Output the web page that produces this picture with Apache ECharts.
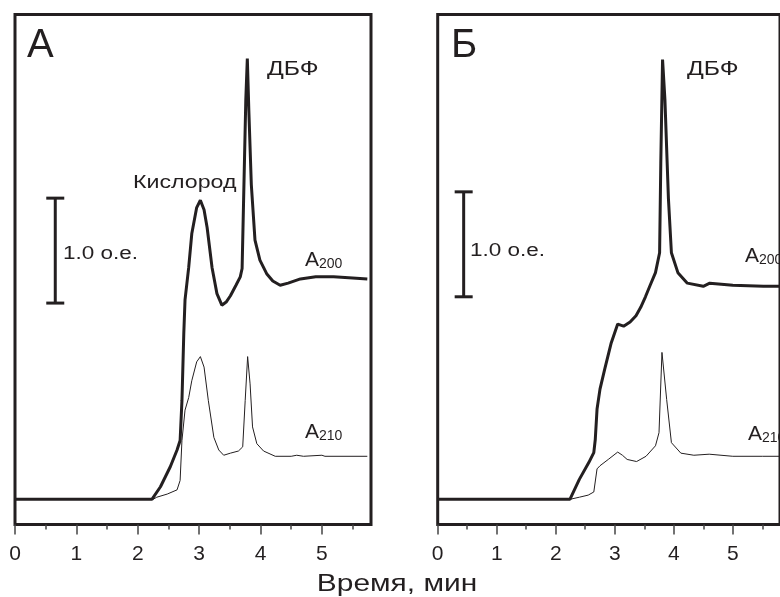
<!DOCTYPE html>
<html><head><meta charset="utf-8">
<script src="https://cdn.jsdelivr.net/npm/echarts@6/dist/echarts.min.js"></script>
<style>html,body{margin:0;padding:0;background:#fff}#c{width:780px;height:597px}</style>
</head><body><div id="c"></div>
<script>
// x-axis ticks (minutes)
const majorTicks = [0, 1, 2, 3, 4, 5];
const minorTicks = [0.5, 1.5, 2.5, 3.5, 4.5, 5.5];
// Panel A (А): [time, absorbance o.e.]
const a200_A = [[0,0],[0.5,0],[1,0],[1.5,0],[2,0],[2.23,0],[2.37,0.12],[2.53,0.31],[2.64,0.47],[2.69,0.56],[2.72,0.94],[2.75,1.58],[2.77,1.9],[2.83,2.21],[2.88,2.53],[2.96,2.78],[3.02,2.85],[3.08,2.76],[3.13,2.59],[3.21,2.21],[3.29,1.96],[3.37,1.85],[3.44,1.88],[3.51,1.94],[3.60,2.04],[3.67,2.12],[3.70,2.2],[3.73,3.0],[3.76,3.8],[3.785,4.2],[3.81,3.7],[3.85,3.0],[3.91,2.47],[3.99,2.28],[4.10,2.15],[4.20,2.08],[4.32,2.04],[4.45,2.06],[4.65,2.10],[4.9,2.12],[5.19,2.12],[5.5,2.11],[5.74,2.10]];
const a210_A = [[0,0],[0.5,0],[1,0],[1.5,0],[2,0],[2.25,0],[2.31,0.02],[2.48,0.05],[2.64,0.09],[2.69,0.18],[2.72,0.56],[2.77,0.85],[2.83,0.97],[2.88,1.13],[2.96,1.31],[3.02,1.36],[3.08,1.26],[3.15,0.94],[3.24,0.59],[3.32,0.47],[3.40,0.42],[3.51,0.44],[3.64,0.46],[3.71,0.50],[3.75,0.94],[3.79,1.36],[3.83,1.10],[3.87,0.69],[3.94,0.53],[4.05,0.46],[4.24,0.41],[4.5,0.41],[4.59,0.42],[4.7,0.41],[5.0,0.42],[5.05,0.41],[5.74,0.41]];
// Panel B (Б)
const a200_B = [[0,0],[0.5,0],[1,0],[1.5,0],[2,0],[2.24,0],[2.40,0.19],[2.56,0.35],[2.645,0.445],[2.67,0.57],[2.70,0.86],[2.75,1.05],[2.83,1.24],[2.94,1.49],[3.05,1.67],[3.15,1.65],[3.26,1.69],[3.36,1.75],[3.44,1.83],[3.52,1.93],[3.60,2.04],[3.69,2.16],[3.76,2.35],[3.78,3.2],[3.81,4.19],[3.85,3.81],[3.91,2.86],[3.96,2.35],[4.07,2.16],[4.23,2.06],[4.50,2.03],[4.61,2.06],[5.0,2.04],[5.52,2.03],[5.8,2.03]];
const a210_B = [[0,0],[0.5,0],[1,0],[1.5,0],[2,0],[2.24,0],[2.40,0.02],[2.55,0.04],[2.645,0.07],[2.70,0.29],[2.75,0.32],[2.89,0.38],[3.05,0.45],[3.13,0.42],[3.21,0.38],[3.37,0.36],[3.53,0.41],[3.69,0.51],[3.75,0.635],[3.80,1.40],[3.88,0.95],[3.96,0.54],[4.12,0.44],[4.34,0.42],[4.6,0.43],[5.0,0.41],[5.5,0.41],[5.8,0.41]];
// 1.0 o.e. scale bars
const scaleA = [[0.656,1.87],[0.656,2.87]];
const scaleB = [[0.44,1.93],[0.44,2.93]];

const INK = '#231f20';
const FONT = 'Liberation Sans, Arial, sans-serif';
const chart = echarts.init(document.getElementById('c'), null, {renderer:'canvas'});

function xAxesFor(gi){
  return [
    {type:'value', gridIndex:gi, min:0, max:5.8, position:'bottom',
     axisLine:{show:false, onZero:false}, splitLine:{show:false},
     axisTick:{show:true, length:10, inside:false, customValues:majorTicks, lineStyle:{color:'#444', width:1.5}},
     axisLabel:{show:true, customValues:majorTicks, margin:19, fontSize:21, fontFamily:FONT, color:INK}},
    {type:'value', gridIndex:gi, min:0, max:5.8, position:'bottom',
     axisLine:{show:false, onZero:false}, splitLine:{show:false},
     axisTick:{show:true, length:5, inside:false, customValues:minorTicks, lineStyle:{color:'#444', width:1.5}},
     axisLabel:{show:false}}
  ];
}
function yAxisFor(gi){
  return {type:'value', gridIndex:gi, min:-0.24, max:4.62, show:false, splitLine:{show:false}};
}
function scaleSeries(xi, yi, data){
  return {type:'line', xAxisIndex:xi, yAxisIndex:yi, data:data, symbol:'rect', symbolSize:[18,3],
    showSymbol:true, itemStyle:{color:INK}, lineStyle:{color:INK, width:3}, silent:true, animation:false};
}
function trace(xi, yi, data, w){
  return {type:'line', xAxisIndex:xi, yAxisIndex:yi, data:data, showSymbol:false, symbol:'none',
    lineStyle:{color:INK, width:w}, silent:true, animation:false, z:3};
}
const sub = (small) => ({
  text:'{a|A}{b|' + small + '}',
  rich:{a:{fontSize:21, fontFamily:FONT, fill:INK, verticalAlign:'bottom'}, b:{fontSize:14, fontFamily:FONT, fill:INK, verticalAlign:'bottom'}}
});
const txt = (x, y, text, size, sx, extra) => ({type:'text', x:x, y:y, scaleX:sx, silent:true,
  style:Object.assign({text:text, fontSize:size, fontFamily:FONT, fill:INK}, extra||{})});

chart.setOption({
  animation:false,
  grid:[
    {left:15, top:14.5, width:356, height:510, show:true, borderWidth:3, borderColor:INK, backgroundColor:'transparent'},
    {left:437.7, top:14.5, width:360, height:510, show:true, borderWidth:3, borderColor:INK, backgroundColor:'transparent'}
  ],
  xAxis:[...xAxesFor(0), ...xAxesFor(1)],
  yAxis:[yAxisFor(0), yAxisFor(1)],
  series:[
    trace(0,0,a210_A,1), trace(0,0,a200_A,3),
    trace(2,1,a210_B,1), trace(2,1,a200_B,3),
    scaleSeries(0,0,scaleA), scaleSeries(2,1,scaleB)
  ],
  graphic:[
    txt(27, 26, 'А', 40, 1),
    txt(451, 26, 'Б', 40, 1),
    txt(267, 59, 'ДБФ', 20, 1.24),
    txt(687, 59, 'ДБФ', 20, 1.24),
    txt(133, 173, 'Кислород', 19, 1.22),
    txt(63, 245, '1.0 о.е.', 18, 1.25),
    txt(470, 242, '1.0 о.е.', 18, 1.25),
    {type:'text', x:305, y:250, silent:true, style:sub('200')},
    {type:'text', x:745, y:246, silent:true, style:sub('200')},
    {type:'text', x:305, y:422, silent:true, style:sub('210')},
    {type:'text', x:748, y:424, silent:true, style:sub('210')},
    txt(397, 573, 'Время, мин', 23, 1.3, {textAlign:'center'})
  ]
});
</script></body></html>
